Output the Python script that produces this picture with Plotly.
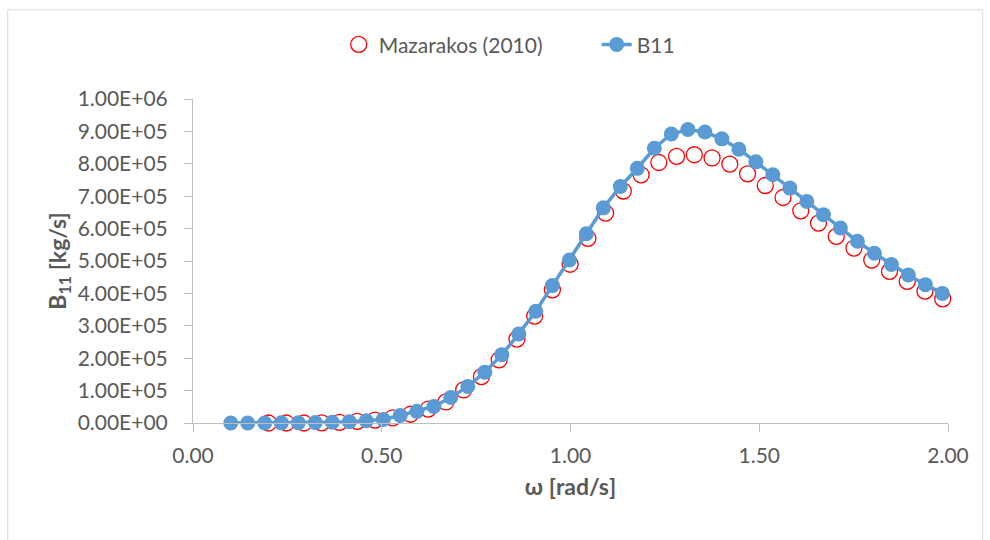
import plotly.graph_objects as go

# B11 (computed) series
b11_omega = [0.100, 0.145, 0.190, 0.234, 0.279, 0.324, 0.369, 0.414, 0.459, 0.504,
             0.549, 0.593, 0.638, 0.683, 0.728, 0.773, 0.818, 0.863, 0.908, 0.952,
             0.997, 1.042, 1.087, 1.132, 1.177, 1.222, 1.267, 1.311, 1.356, 1.401,
             1.446, 1.491, 1.536, 1.581, 1.626, 1.670, 1.715, 1.760, 1.805, 1.850,
             1.895, 1.940, 1.985]
b11_vals = [0, 0, 0, 500, 1000, 1500, 2500, 4000, 7000, 11000,
            23000, 36000, 51000, 79000, 113000, 157000, 211000, 275000, 345000, 424000,
            503000, 584000, 664000, 730000, 786000, 848000, 892000, 906000, 898000, 877000,
            845000, 806000, 766000, 725000, 684000, 643000, 602000, 561000, 524000, 489000,
            457000, 427000, 400000]

# Mazarakos (2010) series
maz_omega = [0.200, 0.247, 0.294, 0.341, 0.388, 0.435, 0.482, 0.529, 0.576, 0.623,
             0.670, 0.717, 0.764, 0.811, 0.858, 0.905, 0.952, 0.999, 1.046, 1.093,
             1.140, 1.187, 1.234, 1.281, 1.328, 1.375, 1.422, 1.469, 1.516, 1.563,
             1.610, 1.657, 1.704, 1.751, 1.798, 1.845, 1.892, 1.939, 1.986]
maz_vals = [0, 0, 0, 500, 2000, 5000, 9000, 16000, 27000, 43000,
            65000, 102000, 143000, 195000, 259000, 330000, 411000, 490000, 570000, 648000,
            716000, 766000, 804000, 823000, 828000, 818000, 799000, 769000, 733000, 696000,
            655000, 617000, 576000, 540000, 503000, 468000, 437000, 407000, 383000]

y_tickvals = [0, 100000, 200000, 300000, 400000, 500000, 600000, 700000, 800000, 900000, 1000000]
y_ticktext = ["0.00E+00", "1.00E+05", "2.00E+05", "3.00E+05", "4.00E+05", "5.00E+05",
              "6.00E+05", "7.00E+05", "8.00E+05", "9.00E+05", "1.00E+06"]
x_tickvals = [0.0, 0.5, 1.0, 1.5, 2.0]

FONT = "Lato"
GRAY = "#595959"
AXIS = "#BFBFBF"

fig = go.Figure()
fig.add_trace(go.Scatter(
    x=maz_omega, y=maz_vals, mode="markers", name="Mazarakos (2010)",
    marker=dict(symbol="circle-open", size=16, color="#FF0000", line=dict(width=1.3, color="#FF0000")),
    cliponaxis=False,
))
fig.add_trace(go.Scatter(
    x=b11_omega, y=b11_vals, mode="lines+markers", name="B11",
    line=dict(color="#5B9BD5", width=3.5),
    marker=dict(symbol="circle", size=15, color="#5B9BD5"),
    cliponaxis=False,
))

fig.update_layout(
    width=990, height=540,
    margin=dict(l=193, r=42, t=99, b=117),
    paper_bgcolor="white", plot_bgcolor="white",
    font=dict(family=FONT, color=GRAY, size=21),
    showlegend=True,
    legend=dict(orientation="h", x=0.193, y=1.1675, xanchor="left", yanchor="middle",
                font=dict(family=FONT, size=21, color=GRAY),
                entrywidth=213, entrywidthmode="pixels",
                bgcolor="rgba(0,0,0,0)"),
    xaxis=dict(range=[0, 2], tickvals=x_tickvals, tickformat=".2f",
               showgrid=False, zeroline=False, showline=True, linecolor=AXIS, linewidth=1,
               ticks="outside", ticklen=8, tickcolor=AXIS, ticklabelstandoff=6,
               tickfont=dict(family=FONT, size=21, color=GRAY),
               title=dict(text="<b>ω [rad/s]</b>", font=dict(family=FONT, size=23, color=GRAY), standoff=12)),
    yaxis=dict(range=[0, 1000000], tickvals=y_tickvals, ticktext=y_ticktext,
               showgrid=False, zeroline=False, showline=True, linecolor=AXIS, linewidth=1,
               ticks="outside", ticklen=8, tickcolor=AXIS, ticklabelstandoff=12,
               tickfont=dict(family=FONT, size=21, color=GRAY),
               title=dict(text="<b>B<sub>11</sub> [kg/s]</b>", font=dict(family=FONT, size=23, color=GRAY), standoff=4)),
    shapes=[dict(type="rect", xref="paper", yref="paper",
                 x0=-0.2454, x1=1.046, y0=-0.373, y1=1.2754,
                 line=dict(color="#D9D9D9", width=1), fillcolor="rgba(0,0,0,0)", layer="below")],
)

fig.write_html("out.html")
